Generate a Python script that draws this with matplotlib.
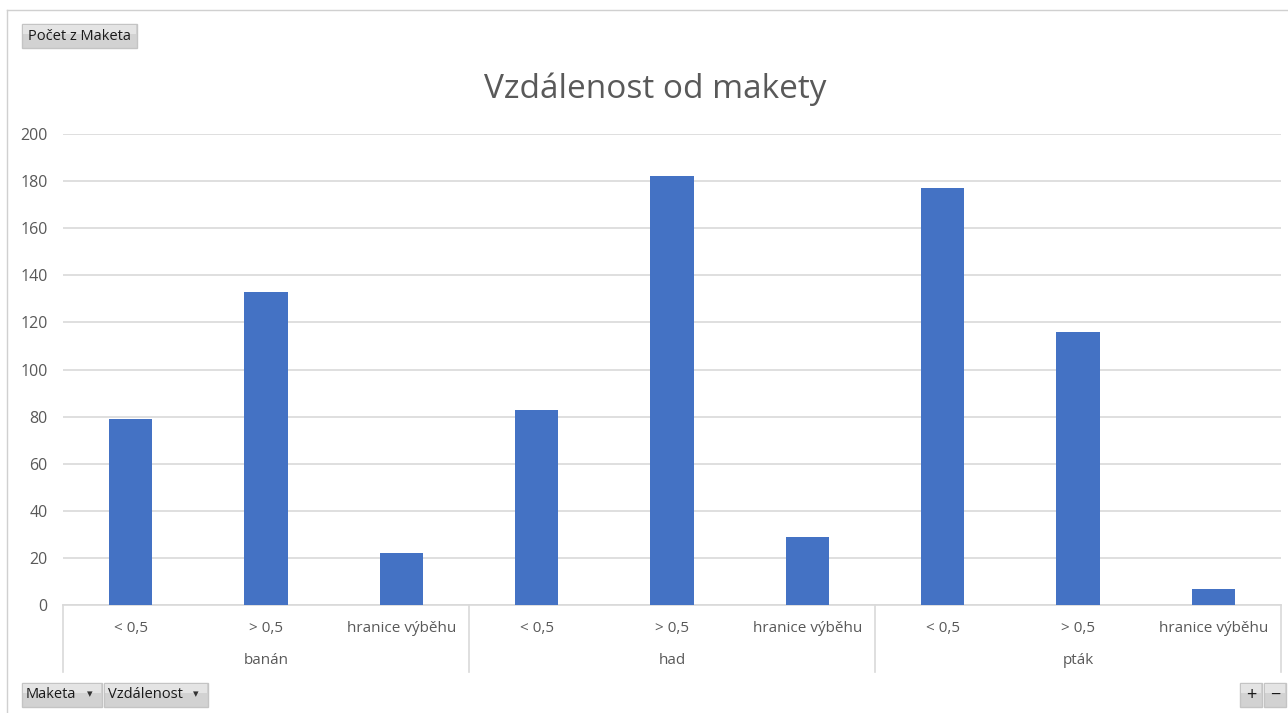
import matplotlib
matplotlib.use("Agg")
import matplotlib.pyplot as plt
import matplotlib.patches as mpatches
import matplotlib.transforms as mtransforms

plt.rcParams['font.family'] = ['Open Sans', 'DejaVu Sans']

groups = ["banán", "had", "pták"]
distances = ["< 0,5", "> 0,5", "hranice výběhu"]
counts = [79, 133, 22, 83, 182, 29, 177, 116, 7]
yticks = [0, 20, 40, 60, 80, 100, 120, 140, 160, 180, 200]

W, H = 1288, 713
fig = plt.figure(figsize=(W / 100, H / 100), dpi=100)
fig.patch.set_facecolor("white")


def fx(px):
    return px / W


def fy(py):
    return 1 - py / H


# outer chart border (top and left)
fig.add_artist(plt.Line2D([fx(7), 1], [fy(10), fy(10)], color="#d0d0d0", lw=1))
fig.add_artist(plt.Line2D([fx(7), fx(7)], [fy(10), 0], color="#d0d0d0", lw=1))

left, right, top, bottom = 63, 1281, 134, 605
ax = fig.add_axes([fx(left), fy(bottom), fx(right - left), (bottom - top) / H])

n = len(counts)
ax.bar(range(n), counts, width=0.32, color="#4472c4", zorder=3)
ax.set_xlim(-0.5, n - 0.5)
ax.set_ylim(0, 200)
ax.set_yticks(yticks)
ax.yaxis.grid(True, color="#d9d9d9", lw=1.2, zorder=0)
for s in ["top", "right", "left"]:
    ax.spines[s].set_visible(False)
ax.spines["bottom"].set_color("#d9d9d9")
ax.spines["bottom"].set_linewidth(1.2)
ax.tick_params(axis="y", length=0, pad=11, labelsize=11.5, labelcolor="#595959")
ax.set_xticks([])

# multi-level category labels
trans = mtransforms.blended_transform_factory(ax.transData, fig.transFigure)
for i in range(n):
    ax.text(i, fy(628), distances[i % 3], transform=trans, ha="center", va="center",
            fontsize=11, color="#595959")
for g, name in enumerate(groups):
    ax.text(g * 3 + 1, fy(661), name, transform=trans, ha="center", va="center",
            fontsize=11, color="#595959")
for g in range(len(groups) + 1):
    x = g * 3 - 0.5
    ax.plot([x, x], [fy(605), fy(672)], transform=trans, color="#d9d9d9", lw=1.2,
            clip_on=False)

fig.text(fx(655), fy(89), "Vzdálenost od makety", ha="center", va="center",
         fontsize=24, color="#595959")


def button(x0, y0, x1, y1, label, arrow=False, fontsize=10.5):
    rect = mpatches.Rectangle((fx(x0), fy(y1)), fx(x1 - x0), (y1 - y0) / H,
                              transform=fig.transFigure, facecolor="#d2d2d2",
                              edgecolor="#c4c4c4", lw=1)
    fig.add_artist(rect)
    rect2 = mpatches.Rectangle((fx(x0 + 1), fy(y0 + 10)), fx(x1 - x0 - 2), 9 / H,
                               transform=fig.transFigure, facecolor="#e4e4e4",
                               edgecolor="none")
    fig.add_artist(rect2)
    ym = fy((y0 + y1) / 2)
    if arrow:
        fig.text(fx(x0 + 4), ym, label, ha="left", va="center", fontsize=fontsize,
                 color="#1a1a1a")
        fig.text(fx(x1 - 12), ym, "▾", ha="center", va="center", fontsize=8,
                 color="#333333")
    else:
        fig.text(fx((x0 + x1) / 2), ym, label, ha="center", va="center",
                 fontsize=fontsize, color="#1a1a1a")


button(22, 24, 137, 48, "Počet z Maketa")
button(22, 683, 102, 707, "Maketa", arrow=True)
button(104, 683, 208, 707, "Vzdálenost", arrow=True)
button(1240, 683, 1262, 707, "+", fontsize=13)
button(1264, 683, 1286, 707, "−", fontsize=13)

fig.savefig("out.png", dpi=100)
